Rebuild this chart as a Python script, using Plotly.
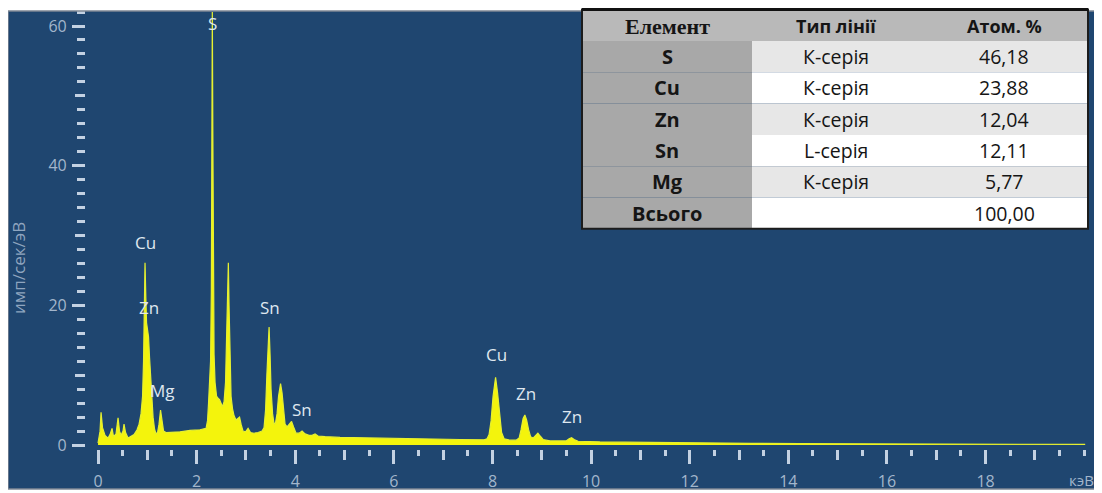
import plotly.graph_objects as go

# ---------------- data ----------------
energy_kev = [0.000, 0.041, 0.061, 0.091, 0.142, 0.203, 0.243, 0.284, 0.314, 0.365,
              0.406, 0.436, 0.467, 0.507, 0.527, 0.558, 0.609, 0.669, 0.730, 0.791,
              0.832, 0.872, 0.903, 0.923, 0.939, 0.953, 0.970, 0.984, 1.004, 1.024,
              1.045, 1.065, 1.085, 1.116, 1.146, 1.176, 1.207, 1.237, 1.268, 1.298,
              1.329, 1.379, 1.501, 1.663, 1.866, 2.069, 2.191, 2.221, 2.241, 2.262,
              2.282, 2.298, 2.308, 2.318, 2.328, 2.343, 2.353, 2.373, 2.404, 2.434,
              2.465, 2.495, 2.525, 2.556, 2.586, 2.606, 2.627, 2.643, 2.657, 2.677,
              2.698, 2.728, 2.759, 2.799, 2.840, 2.870, 2.901, 2.941, 2.992, 3.043,
              3.093, 3.164, 3.245, 3.327, 3.367, 3.398, 3.424, 3.452, 3.469, 3.489,
              3.509, 3.540, 3.570, 3.600, 3.631, 3.661, 3.702, 3.732, 3.763, 3.793,
              3.834, 3.874, 3.925, 3.966, 4.016, 4.077, 4.138, 4.199, 4.280, 4.341,
              4.402, 4.462, 4.604, 4.909, 5.517, 6.126, 6.734, 7.343, 7.830, 7.890,
              7.931, 7.972, 8.012, 8.063, 8.103, 8.144, 8.185, 8.235, 8.357, 8.479,
              8.540, 8.580, 8.621, 8.657, 8.692, 8.732, 8.773, 8.824, 8.874, 8.921,
              8.966, 9.026, 9.168, 9.371, 9.493, 9.554, 9.604, 9.655, 9.736, 10.18,
              11.20, 12.21, 13.23, 14.24, 15.25, 16.27, 18.30, 20.02]
counts = [0.3, 2.0, 4.7, 2.5, 1.4, 1.0, 1.5, 2.4, 1.2, 1.6,
          3.9, 2.0, 1.4, 2.0, 3.0, 1.8, 1.0, 1.2, 1.5, 2.2,
          3.0, 4.5, 7.0, 12.0, 20.0, 26.1, 21.0, 17.5, 16.5, 15.5,
          12.5, 9.5, 7.0, 4.0, 2.3, 1.6, 1.8, 3.0, 5.0, 3.2,
          2.0, 1.8, 1.8, 1.9, 2.1, 2.2, 2.4, 3.5, 6.0, 9.0,
          12.0, 22.0, 45.0, 62.0, 45.0, 22.0, 13.0, 9.0, 7.0, 6.7,
          6.5, 6.0, 5.5, 6.2, 9.0, 15.0, 22.0, 26.1, 20.0, 12.0,
          7.0, 5.2, 4.2, 3.6, 3.9, 4.0, 3.0, 2.0, 1.9, 2.4,
          1.8, 1.7, 1.8, 2.0, 2.5, 5.0, 10.0, 15.0, 16.9, 13.0,
          8.0, 4.5, 3.0, 3.2, 4.5, 7.0, 8.8, 7.5, 4.5, 3.0,
          2.6, 3.0, 3.4, 2.6, 1.7, 1.7, 2.0, 1.6, 1.4, 1.4,
          1.6, 1.3, 1.2, 1.1, 1.0, 0.95, 0.9, 0.8, 0.75, 0.9,
          1.5, 3.5, 7.0, 9.7, 7.5, 4.0, 1.8, 0.9, 0.7, 0.7,
          1.0, 2.2, 3.8, 4.3, 3.6, 2.2, 1.2, 1.0, 1.4, 1.7,
          1.3, 0.8, 0.6, 0.55, 0.6, 0.9, 1.05, 0.8, 0.55, 0.45,
          0.35, 0.3, 0.25, 0.2, 0.18, 0.15, 0.12, 0.1]

peak_labels = ["S", "Cu", "Zn", "Mg", "Sn", "Sn", "Cu", "Zn", "Zn"]
peak_label_x = [2.33, 0.97, 1.03, 1.30, 3.49, 4.14, 8.09, 8.68, 9.62]
peak_label_y = [60.4, 29.0, 19.7, 7.8, 19.7, 5.1, 12.9, 7.4, 4.1]

x_major_ticks = [0, 2, 4, 6, 8, 10, 12, 14, 16, 18, 20]
x_major_text = ["0", "2", "4", "6", "8", "10", "12", "14", "16", "18", ""]
x_unit_label = "кэВ"
x_mid_ticks = [1, 3, 5, 7, 9, 11, 13, 15, 17, 19]
x_minor_ticks = [i * 0.5 for i in range(41)]
y_major_ticks = [0, 20, 40, 60]
y_mid_ticks = [10, 30, 50]
y_minor_ticks = [i * 2 for i in range(32)]
y_title = "имп/сек/эВ"

table_header = ["Елемент", "Тип лінії", "Атом. %"]
table_elements = ["S", "Cu", "Zn", "Sn", "Mg", "Всього"]
table_line_types = ["К-серія", "К-серія", "К-серія", "L-серія", "К-серія", ""]
table_atom_pct = ["46,18", "23,88", "12,04", "12,11", "5,77", "100,00"]

# ---------------- style / geometry ----------------
BG = "#1f4670"
TICK = "#c3d1e2"
LABEL = "#a3b6cc"
TEXT = "#dfe7ef"
YELLOW = "#f4f40c"

PLOT_W, PLOT_H = 1087.0, 478.0   # plot area size in px


def px_x(px):   # page px (plot area starts at 8) -> paper x
    return (px - 8) / PLOT_W


def px_y(py):   # page px (plot area ends at 489) -> paper y
    return (489 - py) / PLOT_H


fig = go.Figure()

fig.add_trace(go.Scatter(
    x=energy_kev, y=counts, mode="lines",
    line=dict(color="#e6f030", width=1.2),
    fill="tozeroy", fillcolor=YELLOW,
    hoverinfo="x+y", showlegend=False,
))
# helper (empty) trace so the overlay axes exist
fig.add_trace(go.Scatter(x=[], y=[], xaxis="x2", yaxis="y2", showlegend=False))

annotations = [
    dict(x=x, y=y, text=t, xref="x", yref="y", showarrow=False,
         font=dict(family="Open Sans", size=17, color=TEXT),
         xanchor="center", yanchor="middle")
    for t, x, y in zip(peak_labels, peak_label_x, peak_label_y)
]
annotations.append(dict(
    x=px_x(18), y=px_y(268), xref="paper", yref="paper", text=y_title,
    textangle=-90, showarrow=False,
    font=dict(family="Open Sans", size=17, color="#8fa5bf"),
    xanchor="center", yanchor="middle"))
annotations.append(dict(
    x=px_x(1081), y=px_y(480), xref="paper", yref="paper", text=x_unit_label,
    showarrow=False, font=dict(family="Open Sans", size=15, color=LABEL),
    xanchor="center", yanchor="middle"))

# ---------------- table (shapes + text) ----------------
col_edges = [582, 752, 920, 1088]
tab_top, head_bot, row_h = 9.5, 41.0, 31.3
n_rows = len(table_elements)
tab_bot = head_bot + n_rows * row_h

shapes = []
shapes.append(dict(type="rect", xref="paper", yref="paper",
                   x0=px_x(col_edges[0]), x1=px_x(col_edges[3]),
                   y0=px_y(head_bot), y1=px_y(tab_top),
                   fillcolor="#b9b9b9", line=dict(width=0), layer="above"))
row_fills = ["#e7e7e7", "#ffffff"]
for r in range(n_rows):
    y0 = px_y(head_bot + (r + 1) * row_h)
    y1 = px_y(head_bot + r * row_h)
    shapes.append(dict(type="rect", xref="paper", yref="paper",
                       x0=px_x(col_edges[0]), x1=px_x(col_edges[1]), y0=y0, y1=y1,
                       fillcolor="#a8a8a8", line=dict(width=0), layer="above"))
    shapes.append(dict(type="rect", xref="paper", yref="paper",
                       x0=px_x(col_edges[1]), x1=px_x(col_edges[3]), y0=y0, y1=y1,
                       fillcolor=row_fills[r % 2], line=dict(width=0), layer="above"))
shapes.append(dict(type="rect", xref="paper", yref="paper",
                   x0=px_x(col_edges[0]), x1=px_x(col_edges[3]),
                   y0=px_y(tab_bot), y1=px_y(tab_top),
                   line=dict(color="#1c1c1c", width=2), layer="above"))
shapes.append(dict(type="line", xref="paper", yref="paper",
                   x0=px_x(col_edges[0]), x1=px_x(col_edges[3]),
                   y0=px_y(tab_top), y1=px_y(tab_top),
                   line=dict(color="#111111", width=3), layer="above"))
shapes.insert(0, dict(type="rect", xref="paper", yref="paper", x0=0, x1=1, y0=0, y1=1,
                      line=dict(color="#7d8794", width=1.5), layer="above"))

col_centers = [(col_edges[i] + col_edges[i + 1]) / 2 for i in range(3)]
header_fonts = [dict(family="Liberation Serif", size=22, color="#151515"),
                dict(family="Open Sans", size=18, color="#151515"),
                dict(family="Open Sans", size=18, color="#151515")]
for c, h in enumerate(table_header):
    annotations.append(dict(x=px_x(col_centers[c]), y=px_y((tab_top + head_bot) / 2 + 1),
                            xref="paper", yref="paper", text="<b>%s</b>" % h,
                            showarrow=False, font=header_fonts[c],
                            xanchor="center", yanchor="middle"))
columns = [["<b>%s</b>" % e for e in table_elements], table_line_types, table_atom_pct]
col_sizes = [20, 19.5, 19.5]
for c, col in enumerate(columns):
    for r, val in enumerate(col):
        if not val:
            continue
        annotations.append(dict(x=px_x(col_centers[c]),
                                y=px_y(head_bot + (r + 0.5) * row_h),
                                xref="paper", yref="paper", text=val, showarrow=False,
                                font=dict(family="Open Sans", size=col_sizes[c],
                                          color="#151515"),
                                xanchor="center", yanchor="middle"))

xr = [-1.826, 20.22]
yr = [-6.286, 62.15]

fig.update_layout(
    width=1094, height=485,
    margin=dict(l=0, r=7, t=3, b=4),
    paper_bgcolor="white",
    plot_bgcolor=BG,
    showlegend=False,
    xaxis=dict(
        range=xr, anchor="free", position=0.0837,
        showgrid=False, zeroline=False, showline=False,
        ticks="outside", tickvals=x_major_ticks, ticktext=x_major_text,
        ticklen=14, tickwidth=3, tickcolor=TICK,
        tickfont=dict(family="Open Sans", size=16, color=LABEL),
        ticklabelstandoff=4,
        minor=dict(tickvals=x_minor_ticks, ticks="outside", ticklen=6,
                   tickwidth=3, tickcolor=TICK, showgrid=False),
    ),
    xaxis2=dict(
        range=xr, overlaying="x", anchor="free", position=0.0837,
        showgrid=False, zeroline=False, showline=False,
        ticks="outside", tickvals=x_mid_ticks, ticklen=10, tickwidth=3,
        tickcolor=TICK, showticklabels=False,
    ),
    yaxis=dict(
        range=yr, anchor="free", position=0.0708,
        showgrid=False, zeroline=False, showline=False,
        ticks="outside", tickvals=y_major_ticks,
        ticklen=13, tickwidth=3, tickcolor=TICK,
        tickfont=dict(family="Open Sans", size=16, color=LABEL),
        ticklabelstandoff=2,
        minor=dict(tickvals=y_minor_ticks, ticks="outside", ticklen=8,
                   tickwidth=3, tickcolor=TICK, showgrid=False),
    ),
    yaxis2=dict(
        range=yr, overlaying="y", anchor="free", position=0.0708,
        showgrid=False, zeroline=False, showline=False,
        ticks="outside", tickvals=y_mid_ticks, ticklen=10, tickwidth=3,
        tickcolor=TICK, showticklabels=False,
    ),
    annotations=annotations,
    shapes=shapes,
)

fig.write_html("out.html")
